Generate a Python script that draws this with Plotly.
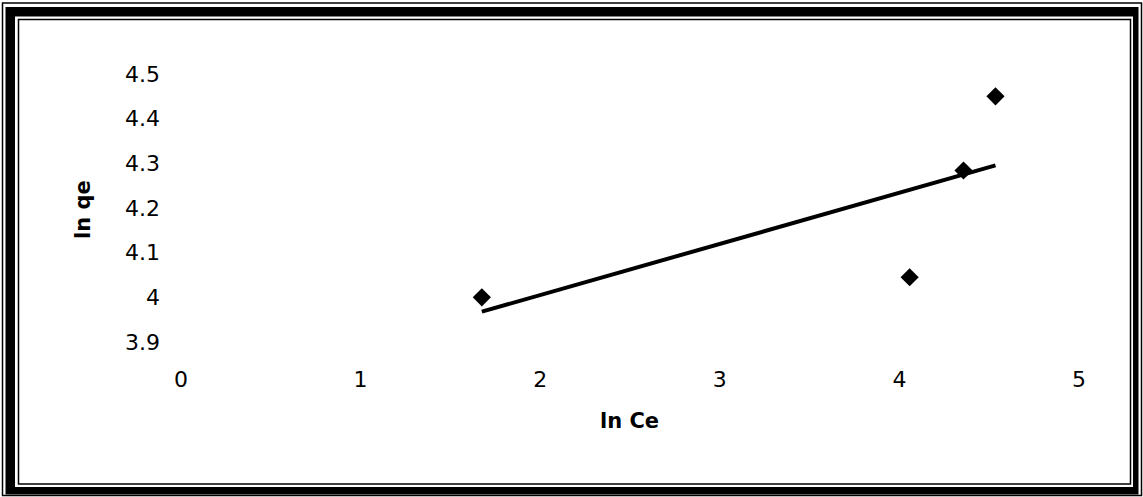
import numpy as np
import plotly.graph_objects as go

# ---- data ----
ln_ce = [1.675, 4.057, 4.357, 4.535]
ln_qe = [4.000, 4.045, 4.284, 4.450]
x_ticks = [0, 1, 2, 3, 4, 5]
x_tick_labels = ["0", "1", "2", "3", "4", "5"]
y_ticks = [3.9, 4.0, 4.1, 4.2, 4.3, 4.4, 4.5]
y_tick_labels = ["3.9", "4", "4.1", "4.2", "4.3", "4.4", "4.5"]
x_title = "ln Ce"
y_title = "ln qe"

# linear trendline (least squares, as Excel does)
slope, intercept = np.polyfit(ln_ce, ln_qe, 1)
trend_x = [min(ln_ce), max(ln_ce)]
trend_y = [slope * v + intercept for v in trend_x]

W, H = 1143, 497
ML, MR, MT, MB = 181, 64, 74, 155
PW = W - ML - MR
PH = H - MT - MB


def pxx(x):
    return (x - ML) / PW


def pxy(y):
    return (H - MB - y) / PH


FONT = "DejaVu Sans"

fig = go.Figure()
fig.add_trace(go.Scatter(
    x=trend_x, y=trend_y, mode="lines",
    line=dict(color="black", width=4),
    showlegend=False, hoverinfo="skip"))
fig.add_trace(go.Scatter(
    x=ln_ce, y=ln_qe, mode="markers",
    marker=dict(symbol="diamond", size=14, color="black"),
    showlegend=False, cliponaxis=False))

shapes = []


def rect(x0, y0, x1, y1, **kw):
    shapes.append(dict(type="rect", xref="paper", yref="paper",
                       x0=pxx(x0), x1=pxx(x1), y0=pxy(y1), y1=pxy(y0),
                       layer="below", **kw))


# outer thin line
rect(2.5, 3, 1141.5, 495.5, line=dict(color="black", width=1.5), fillcolor="rgba(0,0,0,0)")
# thick black band
rect(5.5, 7, 1138.5, 494.5, line=dict(width=0), fillcolor="black")
rect(15, 16.5, 1133, 487, line=dict(width=0), fillcolor="white")
# inner thin line
rect(18.5, 19.5, 1130.5, 484, line=dict(color="black", width=1.5), fillcolor="white")

annotations = [
    dict(text="<b>%s</b>" % x_title, xref="paper", yref="paper",
         x=pxx(629), y=pxy(421), showarrow=False,
         font=dict(family=FONT, size=21, color="black"),
         xanchor="center", yanchor="middle"),
    dict(text="<b>%s</b>" % y_title, xref="paper", yref="paper",
         x=pxx(83), y=pxy(210), showarrow=False, textangle=-90,
         font=dict(family=FONT, size=21, color="black"),
         xanchor="center", yanchor="middle"),
]

fig.update_layout(
    width=W, height=H,
    margin=dict(l=ML, r=MR, t=MT, b=MB, pad=0),
    paper_bgcolor="white", plot_bgcolor="white",
    font=dict(family=FONT, size=22, color="black"),
    shapes=shapes, annotations=annotations,
    xaxis=dict(range=[0, 5], tickvals=x_ticks, ticktext=x_tick_labels,
               showgrid=False, zeroline=False, showline=False, ticks="",
               ticklabelstandoff=22, tickfont=dict(size=22)),
    yaxis=dict(range=[3.9, 4.5], tickvals=y_ticks, ticktext=y_tick_labels,
               showgrid=False, zeroline=False, showline=False, ticks="",
               ticklabelstandoff=20, tickfont=dict(size=22)),
)

fig.write_html("out.html", config={"displayModeBar": False},
               post_script="document.body.style.margin='0';document.body.style.overflow='hidden';")
